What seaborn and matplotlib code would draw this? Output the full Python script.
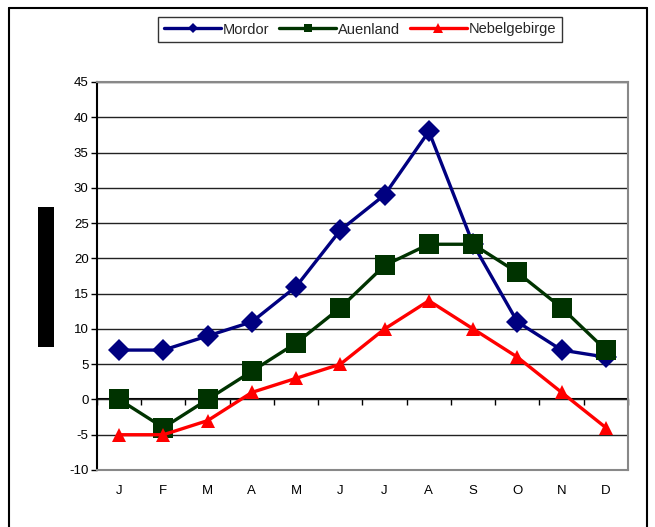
import matplotlib
matplotlib.use("Agg")
import matplotlib.pyplot as plt
from matplotlib.lines import Line2D
from matplotlib.patches import Rectangle
import numpy as np
import pandas as pd
import seaborn as sns

# Monthly values per region
months = ["J", "F", "M", "A", "M", "J", "J", "A", "S", "O", "N", "D"]
mordor = [7, 7, 9, 11, 16, 24, 29, 38, 22, 11, 7, 6]
auenland = [0, -4, 0, 4, 8, 13, 19, 22, 22, 18, 13, 7]
nebelgebirge = [-5, -5, -3, 1, 3, 5, 10, 14, 10, 6, 1, -4]
series_names = ["Mordor", "Auenland", "Nebelgebirge"]
y_ticks = list(range(-10, 50, 5))

colors = {"Mordor": "#000080", "Auenland": "#003300", "Nebelgebirge": "#FF0000"}
markers = {"Mordor": "D", "Auenland": "s", "Nebelgebirge": "^"}
marker_sizes = {"Mordor": 11, "Auenland": 14, "Nebelgebirge": 9.5}
legend_marker_sizes = {"Mordor": 5.5, "Auenland": 5.5, "Nebelgebirge": 6.5}

df = pd.DataFrame({
    "month": np.tile(np.arange(len(months)), 3),
    "value": mordor + auenland + nebelgebirge,
    "series": np.repeat(series_names, len(months)),
})

sns.set_theme(style="white")
plt.rcParams["font.family"] = ["Liberation Sans", "DejaVu Sans"]
plt.rcParams["axes.unicode_minus"] = False

fig = plt.figure(figsize=(6.55, 5.27), dpi=100)
ax = fig.add_axes([97 / 655, 1 - 470 / 527, 531 / 655, 388 / 527])

for name in series_names:
    sub = df[df["series"] == name]
    sns.lineplot(data=sub, x="month", y="value", ax=ax, color=colors[name],
                 marker=markers[name], markersize=marker_sizes[name],
                 markeredgewidth=0, linewidth=2.4, legend=False)

ax.set_xlim(-0.5, len(months) - 0.5)
ax.set_ylim(y_ticks[0], y_ticks[-1])
ax.set_xlabel("")
ax.set_ylabel("")

# y axis: ticks every 5 with horizontal gridlines
ax.set_yticks(y_ticks)
ax.yaxis.grid(True, color="#222222", linewidth=1.0)
ax.xaxis.grid(False)
ax.set_axisbelow(True)
ax.tick_params(axis="y", which="major", left=True, direction="out", length=4,
               width=1, color="black", labelsize=9.5, pad=2, labelcolor="black")

# month labels under the plot area
ax.set_xticks(range(len(months)))
ax.set_xticklabels(months)
ax.tick_params(axis="x", which="major", bottom=False, length=0, labelsize=9.5,
               pad=11, labelcolor="black")

for side in ["top", "right", "bottom"]:
    ax.spines[side].set_color("#888888")
    ax.spines[side].set_linewidth(1.5)
ax.spines["left"].set_color("black")
ax.spines["left"].set_linewidth(1.5)

# category axis crossing at zero, ticks between months
zero_frac = (0 - y_ticks[0]) / (y_ticks[-1] - y_ticks[0])
sec = ax.secondary_xaxis(zero_frac)
sec.set_xticks(np.arange(len(months) + 1) - 0.5)
sec.set_xticklabels([])
sec.tick_params(axis="x", direction="out", length=4, width=1, color="black")
sec.spines["bottom"].set_color("black")
sec.spines["bottom"].set_linewidth(1.5)

# legend
handles = [Line2D([0], [0], color=colors[n], marker=markers[n], linewidth=2.4,
                  markersize=legend_marker_sizes[n], markeredgewidth=0)
           for n in series_names]
leg = fig.legend(handles, series_names, loc="center", bbox_to_anchor=(360 / 655, 1 - 29.5 / 527),
                 ncol=3, frameon=True, fancybox=False, fontsize=10.5, handlelength=3.9,
                 handletextpad=0.1, columnspacing=0.7, borderpad=0.4)
leg.get_frame().set_edgecolor("black")
leg.get_frame().set_linewidth(1.0)

# outer chart frame
frame_kw = dict(color="black", linewidth=1.5, transform=fig.transFigure)
fig.add_artist(Line2D([9 / 655, 9 / 655], [0, 1 - 8 / 527], **frame_kw))
fig.add_artist(Line2D([9 / 655, 647 / 655], [1 - 8 / 527, 1 - 8 / 527], **frame_kw))
fig.add_artist(Line2D([647 / 655, 647 / 655], [0, 1 - 8 / 527], **frame_kw))

# filled block at the axis title position
fig.add_artist(Rectangle((38 / 655, 1 - 347 / 527), 16 / 655, 140 / 527,
                         facecolor="black", edgecolor="none", transform=fig.transFigure))

fig.savefig("out.png", dpi=100)
